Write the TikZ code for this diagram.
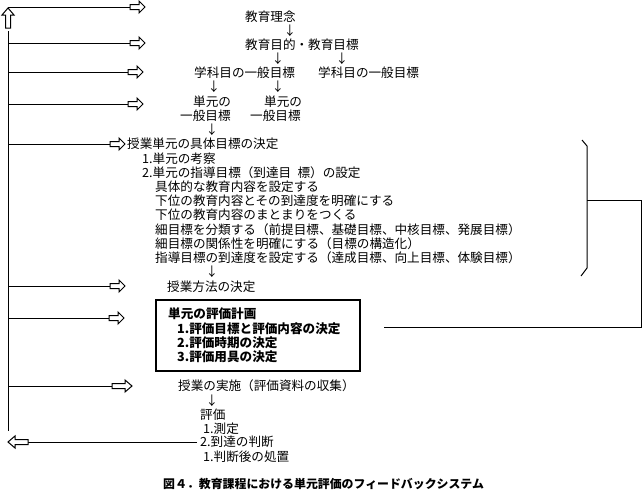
\documentclass[tikz,border=0pt]{standalone}
\usepackage{fontspec}
\setmainfont{Noto Sans CJK JP}
\newcommand\jpf{\fontsize{12.6}{14}\selectfont}
\newcommand\jpb{\fontsize{12.6}{14}\selectfont\bfseries}
\newcommand\jpcap{\fontsize{11.9}{14}\selectfont\bfseries}
\tikzset{
  t/.style={anchor=west, inner sep=0pt, font=\jpf},
  tb/.style={anchor=west, inner sep=0pt, font=\jpb},
  dn/.style={anchor=center, inner sep=0pt, font=\jpf},
  ln/.style={line width=1pt},
  hol/.pic={\draw[ln, fill=white] (0,2.5) -- (9,2.5) -- (9,6) -- (15,0) -- (9,-6) -- (9,-2.5) -- (0,-2.5) -- cycle;},
  holl/.pic={\draw[ln, fill=white] (0,2.5) -- (13,2.5) -- (13,6) -- (20,0) -- (13,-6) -- (13,-2.5) -- (0,-2.5) -- cycle;},
}
\begin{document}
\begin{tikzpicture}[x=1pt, y=-1pt]
\useasboundingbox (0,0) rectangle (644,493);
% bus and feedback arrows
\coordinate (busT) at (8,31);
\coordinate (busB) at (8,431);
\draw[ln] (busT) -- (busB);
\pic[rotate=90] at (8,28) {holl};
\coordinate (b1) at (8,7);   \coordinate (a1) at (130,7);
\coordinate (b2) at (8,43);  \coordinate (a2) at (130,43);
\coordinate (b3) at (8,72);  \coordinate (a3) at (128,72);
\coordinate (b4) at (8,104); \coordinate (a4) at (128,104);
\coordinate (b5) at (8,144); \coordinate (a5) at (110,144);
\coordinate (b6) at (8,286); \coordinate (a6) at (110,286);
\coordinate (b7) at (8,318); \coordinate (a7) at (109,318);
\coordinate (b8) at (8,386); \coordinate (a8) at (112,386);
\foreach \i in {1,...,8} {\draw[ln] (b\i) -- (a\i);}
\foreach \i in {1,...,7} {\pic at (a\i) {hol};}
\pic at (a8) {holl};
% texts
\node[t] (rinen) at (245,17) {教育理念};
\node[dn] (d1) at (290,31) {↓};
\node[t] (mokuteki) at (245,45) {教育目的・教育目標};
\node[dn] (d2) at (278,59) {↓};
\node[dn] (d3) at (342,59) {↓};
\node[t] (gk1) at (194,73) {学科目の一般目標};
\node[t] (gk2) at (318,73) {学科目の一般目標};
\node[dn] (d4) at (214,87) {↓};
\node[dn] (d5) at (278,87) {↓};
\node[t] (tg1a) at (193,102) {単元の};
\node[t] (tg1b) at (180,116) {一般目標};
\node[t] (tg2a) at (264,102) {単元の};
\node[t] (tg2b) at (250,116) {一般目標};
\node[dn] (d6) at (212,130) {↓};
\node[t] (gutai) at (127,144) {授業単元の具体目標の決定};
\node[t] (l1) at (142,159) {1.単元の考察};
\node[t] (l2) at (142,173) {2.単元の指導目標（到達目\hspace{0.5em}標）の設定};
\node[t] (l3) at (155,187) {具体的な教育内容を設定する};
\node[t] (l4) at (155,201) {下位の教育内容とその到達度を明確にする};
\node[t] (l5) at (155,215) {下位の教育内容のまとまりをつくる};
\node[t] (l6) at (155,230) {細目標を分類する（前提目標、基礎目標、中核目標、発展目標）};
\node[t] (l7) at (155,244) {細目標の関係性を明確にする（目標の構造化）};
\node[t] (l8) at (155,258) {指導目標の到達度を設定する（達成目標、向上目標、体験目標）};
\node[dn] (d7) at (212,272) {↓};
\node[t] (houhou) at (167,287) {授業方法の決定};
\node[draw, line width=2.2pt, minimum width=204pt, minimum height=71pt, anchor=north west, inner sep=0pt] (box) at (155,299) {};
\node[tb] (p0) at (168,314) {単元の評価計画};
\node[tb] (p1) at (177,329) {1.評価目標と評価内容の決定};
\node[tb] (p2) at (177,343) {2.評価時期の決定};
\node[tb] (p3) at (177,357) {3.評価用具の決定};
\node[t] (jisshi) at (178,386) {授業の実施（評価資料の収集）};
\node[dn] (d8) at (212,401) {↓};
\node[t] (hyoka) at (200,415) {評価};
\node[t] (e1) at (203,429) {1.測定};
\node[t] (e2) at (200,442) {2.到達の判断};
\node[t] (e3) at (203,457) {1.判断後の処置};
\node[anchor=west, inner sep=0pt, font=\jpcap] (cap) at (163,484) {図４．教育課程における単元評価のフィードバックシステム};
% feedback from evaluation
\coordinate (fbL) at (28,442);
\draw[ln] (e2.west) ++(-3,0) -- (fbL);
\pic[rotate=180] at (28,442) {holl};
% brace and loop
\coordinate (brT) at (582,140);
\coordinate (brB) at (581,276);
\coordinate (brM) at (587,200);
\coordinate (rc1) at (641,200);
\coordinate (rc2) at (641,327);
\coordinate (planR) at (384,327);
\draw[ln] (brT) -- (587,146) -- (587,268) -- (brB);
\draw[ln] (brM) -- (rc1) -- (rc2) -- (planR);
\end{tikzpicture}
\end{document}
